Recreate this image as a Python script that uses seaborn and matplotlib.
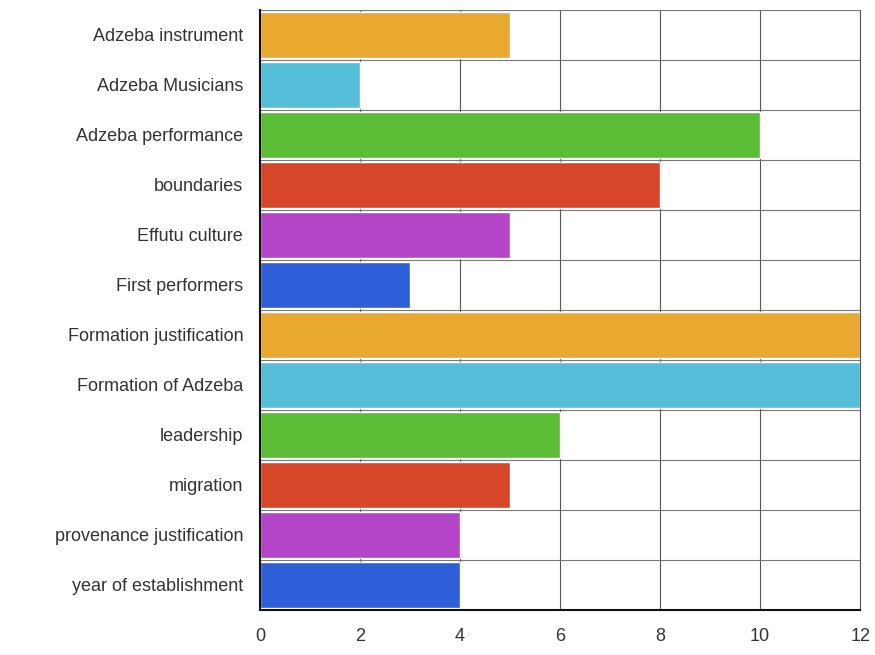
import matplotlib
matplotlib.use("Agg")
import matplotlib.pyplot as plt
import numpy as np
import pandas as pd
import seaborn as sns

categories = [
    "Adzeba instrument",
    "Adzeba Musicians",
    "Adzeba performance",
    "boundaries",
    "Effutu culture",
    "First performers",
    "Formation justification",
    "Formation of Adzeba",
    "leadership",
    "migration",
    "provenance justification",
    "year of establishment",
]
counts = [5, 2, 10, 8, 5, 3, 12, 12, 6, 5, 4, 4]
colors = ["#E9A830", "#55BFDA", "#5BBD35", "#D8462A", "#B445C8", "#2F5FD8"] * 2

df = pd.DataFrame({"category": categories, "count": counts})

sns.set_style("white")
plt.rcParams["font.family"] = ["Liberation Sans", "DejaVu Sans"]

fig = plt.figure(figsize=(8.75, 6.55), dpi=100)
ax = fig.add_axes([0.297, 0.069, 0.686, 0.916])

sns.barplot(
    data=df,
    y="category",
    x="count",
    hue="category",
    palette=colors,
    legend=False,
    orient="h",
    width=0.93,
    saturation=1,
    ax=ax,
    zorder=2,
)

ax.set_xlim(0, 12)
ax.set_ylim(len(categories) - 0.5, -0.5)
ax.set_xticks(np.arange(0, 13, 2))
ax.set_yticks(np.arange(len(categories)))
ax.set_yticklabels(categories)
ax.set_yticks(np.arange(len(categories) + 1) - 0.5, minor=True)
ax.grid(True, axis="x", color="#555555", linewidth=0.8, zorder=0)
ax.grid(True, axis="y", which="minor", color="#777777", linewidth=0.8, zorder=0)
ax.grid(False, axis="y", which="major")
ax.set_axisbelow(True)
ax.set_xlabel("")
ax.set_ylabel("")
ax.tick_params(axis="both", which="both", length=0, labelsize=13, colors="#333333")
ax.tick_params(axis="x", pad=13)
ax.tick_params(axis="y", pad=12)

ax.spines["top"].set_visible(False)
ax.spines["right"].set_color("#555555")
ax.spines["right"].set_linewidth(0.8)
ax.spines["left"].set_color("#111111")
ax.spines["left"].set_linewidth(1.5)
ax.spines["bottom"].set_color("#111111")
ax.spines["bottom"].set_linewidth(1.5)

fig.savefig("out.png", dpi=100)
